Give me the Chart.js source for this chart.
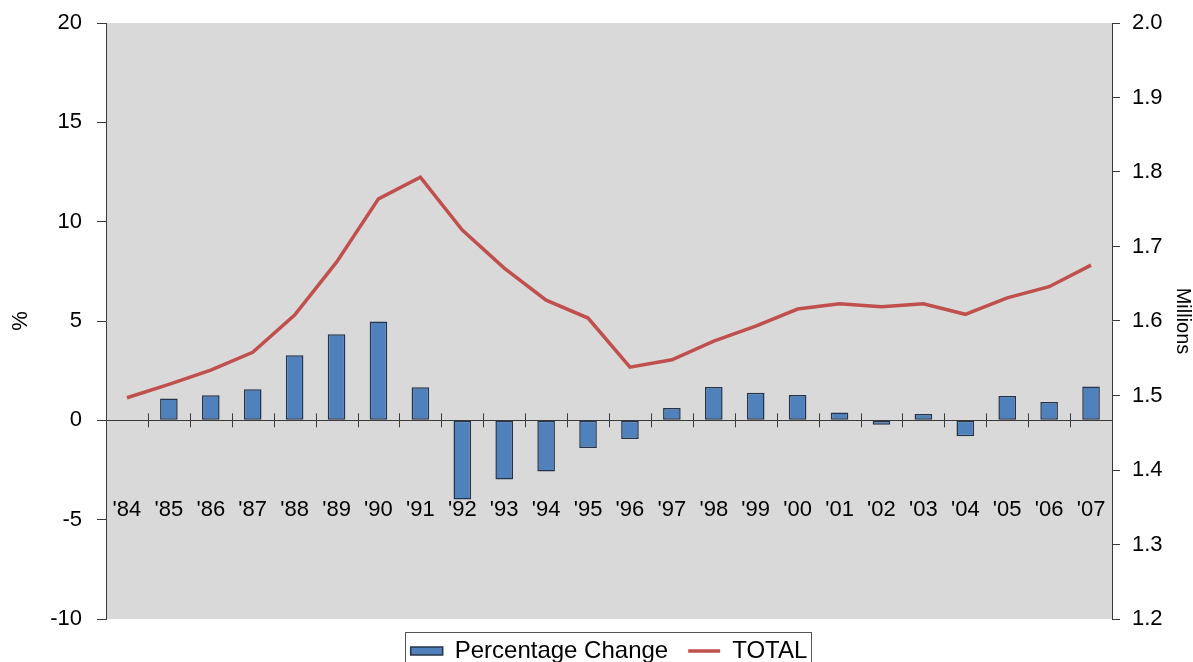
<!DOCTYPE html>
<html>
<head>
<meta charset="utf-8">
<script src="https://cdn.jsdelivr.net/npm/chart.js@4.4.1/dist/chart.umd.min.js"></script>
<style>
  html, body { margin: 0; padding: 0; background: #fff; }
  #wrap { width: 1193px; height: 662px; position: relative; }
</style>
</head>
<body>
<div id="wrap"><canvas id="chart"></canvas></div>
<script>
// years shown on the category axis
const years = ["'84", "'85", "'86", "'87", "'88", "'89", "'90", "'91", "'92", "'93", "'94", "'95",
               "'96", "'97", "'98", "'99", "'00", "'01", "'02", "'03", "'04", "'05", "'06", "'07"];

// yearly % change (left axis)
const pctChange = [null, 1.1, 1.26, 1.56, 3.27, 4.33, 4.98, 1.66, -3.98, -2.98, -2.57, -1.39,
                   -0.94, 0.62, 1.68, 1.39, 1.27, 0.39, -0.22, 0.32, -0.8, 1.22, 0.92, 1.7];

// total, millions (right axis)
const total = [1.497, 1.515, 1.534, 1.558, 1.608, 1.679, 1.764, 1.793, 1.722, 1.671, 1.628, 1.604,
               1.538, 1.548, 1.573, 1.593, 1.616, 1.623, 1.619, 1.623, 1.609, 1.631, 1.646, 1.675];

const FONT = 'Liberation Sans, Arial, sans-serif';
const AXIS_COLOR = '#3a3a3a';

// grey plot background
const plotBg = {
    id: 'plotBg',
    beforeDraw(chart) {
        const {ctx, chartArea: a} = chart;
        ctx.save();
        ctx.fillStyle = '#d9d9d9';
        ctx.fillRect(a.left, a.top, a.right - a.left, a.bottom - a.top);
        ctx.restore();
    }
};

// tick marks crossing the zero line, plus box around legend
const extras = {
    id: 'extras',
    afterDraw(chart) {
        const ctx = chart.ctx;
        const x = chart.scales.x;
        const y0 = chart.scales.y.getPixelForValue(0);
        ctx.save();
        ctx.strokeStyle = AXIS_COLOR;
        ctx.lineWidth = 1;
        ctx.beginPath();
        for (let i = 1; i < years.length; i++) {
            const px = Math.round((x.getPixelForValue(i - 1) + x.getPixelForValue(i)) / 2) + 0.5;
            ctx.moveTo(px, y0 - 7);
            ctx.lineTo(px, y0 + 7);
        }
        ctx.stroke();

        const lg = chart.legend;
        if (lg && lg.legendHitBoxes.length) {
            const boxes = lg.legendHitBoxes;
            const left = boxes[0].left - 6;
            const right = boxes[boxes.length - 1].left + boxes[boxes.length - 1].width + 3;
            const top = boxes[0].top - 7;
            ctx.strokeStyle = '#555';
            ctx.strokeRect(Math.round(left) + 0.5, Math.round(top) + 0.5, Math.round(right - left), 60);
        }
        ctx.restore();
    }
};

// fixed axis widths, and don't let tick label padding push the plot top down
function fitAxis(width) {
    return s => {
        s.width = width;
        s.paddingTop = 12;
    };
}

new Chart(document.getElementById('chart'), {
    type: 'bar',
    data: {
        labels: years,
        datasets: [
            {
                label: 'Percentage Change',
                data: pctChange,
                backgroundColor: '#4f81bd',
                borderColor: '#25344a',
                borderWidth: 1.5,
                borderSkipped: false,
                categoryPercentage: 1,
                barPercentage: 0.42,
                pointStyle: 'rect',
                yAxisID: 'y',
                order: 1
            },
            {
                type: 'line',
                label: 'TOTAL',
                data: total,
                borderColor: '#c0504d',
                backgroundColor: '#c0504d',
                borderWidth: 3.5,
                pointRadius: 0,
                pointStyle: 'line',
                tension: 0,
                yAxisID: 'y1',
                order: 0
            }
        ]
    },
    options: {
        responsive: true,
        maintainAspectRatio: false,
        animation: false,
        layout: { autoPadding: false, padding: { top: 23, left: 0, right: 0, bottom: -11 } },
        plugins: {
            tooltip: { enabled: false },
            legend: {
                position: 'bottom',
                fullSize: false,
                labels: {
                    usePointStyle: true,
                    pointStyleWidth: 32,
                    boxHeight: 8,
                    padding: 20,
                    color: '#000',
                    font: { family: FONT, size: 24 },
                    sort: (a, b) => a.datasetIndex - b.datasetIndex
                }
            }
        },
        scales: {
            x: {
                position: { y: 0 },
                offset: true,
                grid: { display: true, drawOnChartArea: false, drawTicks: false, offset: true },
                border: { display: true, color: AXIS_COLOR, width: 1 },
                ticks: {
                    color: '#000',
                    padding: 76,
                    maxRotation: 0,
                    autoSkip: false,
                    font: { family: FONT, size: 22 }
                }
            },
            y: {
                position: 'left',
                min: -10,
                max: 20,
                afterFit: fitAxis(106),
                grid: { drawOnChartArea: false, tickLength: 9, color: AXIS_COLOR },
                border: { display: true, color: AXIS_COLOR, width: 1 },
                ticks: {
                    stepSize: 5,
                    color: '#000',
                    padding: 15,
                    font: { family: FONT, size: 22 }
                },
                title: {
                    display: true,
                    text: '%',
                    color: '#000',
                    padding: { top: 8, bottom: 0 },
                    font: { family: FONT, size: 22 }
                }
            },
            y1: {
                position: 'right',
                min: 1.2,
                max: 2.0,
                afterFit: fitAxis(81),
                grid: { drawOnChartArea: false, tickLength: 8, color: AXIS_COLOR },
                border: { display: true, color: AXIS_COLOR, width: 1 },
                ticks: {
                    stepSize: 0.1,
                    color: '#000',
                    padding: 12,
                    font: { family: FONT, size: 22 },
                    callback: v => Number(v).toFixed(1)
                },
                title: {
                    display: true,
                    text: 'Millions',
                    color: '#000',
                    padding: 0,
                    font: { family: FONT, size: 20, lineHeight: 1 }
                }
            }
        }
    },
    plugins: [plotBg, extras]
});
</script>
</body>
</html>
